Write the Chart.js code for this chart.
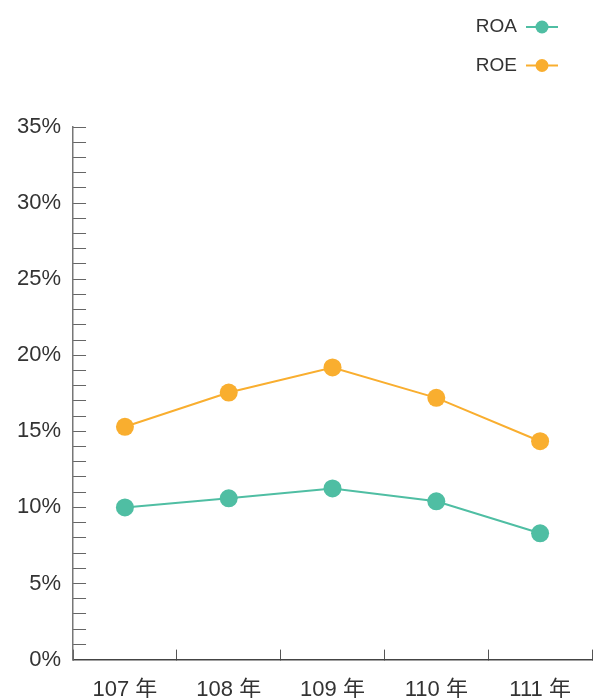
<!DOCTYPE html>
<html>
<head>
<meta charset="utf-8">
<script src="https://cdn.jsdelivr.net/npm/chart.js@4/dist/chart.umd.min.js"></script>
<style>
  html, body { margin: 0; padding: 0; background: #fff; }
  #wrap { width: 601px; height: 698px; }
</style>
</head>
<body>
<div id="wrap"><canvas id="chart" width="601" height="698"></canvas></div>
<script>
const years = ['107 年', '108 年', '109 年', '110 年', '111 年'];
const roa = [10.0, 10.6, 11.25, 10.4, 8.3];
const roe = [15.3, 17.55, 19.2, 17.2, 14.35];
const seriesNames = ['ROA', 'ROE'];
const seriesColors = ['#4fbea3', '#f9ae2f'];

const FONT = "'Liberation Sans', 'Noto Sans CJK TC', sans-serif";

// legend on the top right: text first, then line + dot, stacked
const sideLegend = {
  id: 'sideLegend',
  afterDraw(chart) {
    const ctx = chart.ctx;
    ctx.save();
    chart.data.datasets.forEach((ds, i) => {
      const y = 27 + i * 38.5;
      ctx.font = '19px ' + FONT;
      ctx.fillStyle = '#333';
      ctx.textAlign = 'right';
      ctx.textBaseline = 'middle';
      ctx.fillText(ds.label, 517, y);
      ctx.strokeStyle = ds.borderColor;
      ctx.lineWidth = 2;
      ctx.beginPath();
      ctx.moveTo(526, y);
      ctx.lineTo(558, y);
      ctx.stroke();
      ctx.fillStyle = ds.borderColor;
      ctx.beginPath();
      ctx.arc(542, y, 6.5, 0, Math.PI * 2);
      ctx.fill();
    });
    ctx.restore();
  }
};

new Chart(document.getElementById('chart'), {
  type: 'line',
  data: {
    labels: years,
    datasets: [roa, roe].map((d, i) => ({
      label: seriesNames[i],
      data: d,
      borderColor: seriesColors[i],
      backgroundColor: seriesColors[i],
      pointBackgroundColor: seriesColors[i],
      borderWidth: 2,
      pointRadius: 9,
      pointBorderWidth: 0,
      tension: 0
    }))
  },
  options: {
    responsive: false,
    animation: false,
    layout: { padding: { top: 127, right: 7, left: -8, bottom: -32 } },
    plugins: { legend: { display: false }, tooltip: { enabled: false } },
    scales: {
      x: {
        offset: true,
        grid: { offset: true, drawOnChartArea: false, tickLength: -10, color: '#555' },
        border: { color: '#444', width: 1.5 },
        ticks: { color: '#333', font: { family: FONT, size: 22 }, padding: 27, maxRotation: 0 }
      },
      y: {
        min: 0,
        max: 35,
        grid: { drawOnChartArea: false, tickLength: -13, color: '#666' },
        border: { color: '#777', width: 1.5 },
        ticks: {
          stepSize: 1,
          autoSkip: false,
          color: '#333',
          font: { family: FONT, size: 22 },
          padding: 25,
          callback: v => (v % 5 === 0 ? v + '%' : '')
        }
      }
    }
  },
  plugins: [sideLegend]
});
</script>
</body>
</html>
